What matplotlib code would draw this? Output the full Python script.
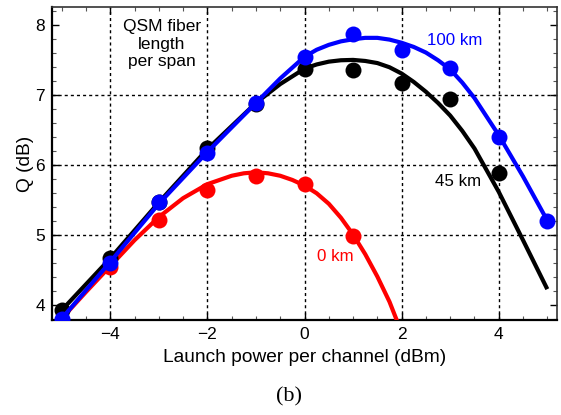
import matplotlib
matplotlib.use("Agg")
import matplotlib.pyplot as plt
from matplotlib.ticker import MultipleLocator

# ---- data ----
# measured points
x_red_pts = [-4, -3, -2, -1, 0, 1]
y_red_pts = [4.53, 5.21, 5.64, 5.84, 5.72, 4.98]
x_blk_pts = [-5, -4, -3, -2, -1, 0, 1, 2, 3, 4]
y_blk_pts = [3.92, 4.67, 5.47, 6.23, 6.87, 7.37, 7.35, 7.17, 6.94, 5.88]
x_blu_pts = [-5, -4, -3, -2, -1, 0, 1, 2, 3, 4, 5]
y_blu_pts = [3.80, 4.60, 5.46, 6.17, 6.88, 7.53, 7.86, 7.64, 7.38, 6.40, 5.20]

# fitted curves
x_red_fit = [-5.0, -4.5, -4.0, -3.5, -3.0, -2.5, -2.0, -1.5, -1.25, -1.0, -0.75, -0.5,
             -0.25, 0.0, 0.25, 0.5, 0.75, 1.0, 1.25, 1.5, 1.75, 2.0]
y_red_fit = [3.80, 4.18, 4.55, 4.92, 5.25, 5.52, 5.72, 5.84, 5.875, 5.89, 5.875, 5.84,
             5.78, 5.70, 5.59, 5.44, 5.24, 5.00, 4.72, 4.40, 4.04, 3.60]
x_blk_fit = [-5.0, -4.0, -3.0, -2.0, -1.5, -1.0, -0.5, 0.0, 0.25, 0.5, 0.75, 1.0, 1.25,
             1.5, 1.75, 2.0, 2.25, 2.5, 2.75, 3.0, 3.25, 3.5, 4.0, 4.5, 5.0]
y_blk_fit = [3.92, 4.66, 5.46, 6.22, 6.55, 6.88, 7.15, 7.37, 7.43, 7.47, 7.49, 7.495, 7.48,
             7.45, 7.39, 7.30, 7.18, 7.04, 6.88, 6.70, 6.48, 6.23, 5.61, 4.92, 4.22]
x_blu_fit = [-5.0, -4.0, -3.0, -2.0, -1.0, -0.5, 0.0, 0.25, 0.5, 0.75, 1.0, 1.25, 1.5,
             1.75, 2.0, 2.25, 2.5, 2.75, 3.0, 3.25, 3.5, 4.0, 4.5, 5.0]
y_blu_fit = [3.80, 4.61, 5.44, 6.18, 6.88, 7.23, 7.54, 7.64, 7.71, 7.76, 7.79, 7.81, 7.81,
             7.785, 7.74, 7.68, 7.60, 7.49, 7.36, 7.17, 6.95, 6.42, 5.83, 5.20]

x_ticks = [-4, -2, 0, 2, 4]
y_ticks = [4, 5, 6, 7, 8]
x_grid = [-4, -2, 0, 2, 4]
y_grid = [5, 6, 7]

RED, BLK, BLU = "#ff0000", "#000000", "#0000ff"

plt.rcParams['font.family'] = ['Liberation Sans', 'DejaVu Sans']
fig = plt.figure(figsize=(5.61, 4.15), dpi=100)
ax = fig.add_axes([0.0927, 0.229, 0.9002, 0.754])

for xv in x_grid:
    ax.axvline(xv, color='black', lw=1.0, ls=(0, (2.2, 2.2)), zorder=1)
for yv in y_grid:
    ax.axhline(yv, color='black', lw=1.0, ls=(0, (2.2, 2.2)), zorder=1)

lw = 3.0
ms = 11.5
ax.plot(x_red_fit, y_red_fit, color=RED, lw=lw, zorder=3, solid_capstyle='butt')
ax.plot(x_red_pts, y_red_pts, 'o', color=RED, ms=ms, mec='none', zorder=3)
ax.plot(x_blk_fit, y_blk_fit, color=BLK, lw=lw, zorder=4, solid_capstyle='butt')
ax.plot(x_blk_pts, y_blk_pts, 'o', color=BLK, ms=ms, mec='none', zorder=4)
ax.plot(x_blu_fit, y_blu_fit, color=BLU, lw=lw, zorder=5, solid_capstyle='butt')
ax.plot(x_blu_pts, y_blu_pts, 'o', color=BLU, ms=ms, mec='none', zorder=5)

ax.set_xlim(-5.2, 5.2)
ax.set_ylim(3.78, 8.25)
ax.set_xticks(x_ticks)
ax.set_xticklabels([f"\u2212{abs(v)}" if v < 0 else str(v) for v in x_ticks])
ax.set_yticks(y_ticks)
ax.xaxis.set_minor_locator(MultipleLocator(0.5))
ax.yaxis.set_minor_locator(MultipleLocator(0.2))
ax.tick_params(which='both', direction='in', top=True, right=True,
               labeltop=False, labelright=False)
ax.tick_params(which='major', length=5, width=1.0, labelsize=12.5, pad=5)
ax.tick_params(which='minor', length=3, width=0.8, color='#555555')

for s in ['left', 'bottom']:
    ax.spines[s].set_linewidth(1.6)
    ax.spines[s].set_color('black')
for s in ['top', 'right']:
    ax.spines[s].set_linewidth(1.2)
    ax.spines[s].set_color('#333333')

ax.set_xlabel("Launch power per channel (dBm)", fontsize=13.8, labelpad=5)
ax.set_ylabel("Q (dB)", fontsize=13.8, labelpad=1)

ax.text(-2.94, 7.72, "QSM fiber\nlength\nper span", ha='center', va='center',
        fontsize=12.5, linespacing=1.22, color='black')
ax.text(3.09, 7.77, "100 km", ha='center', va='center', fontsize=12.2, color=BLU)
ax.text(3.16, 5.76, "45 km", ha='center', va='center', fontsize=12.2, color=BLK)
ax.text(0.63, 4.69, "0 km", ha='center', va='center', fontsize=12.2, color=RED)

fig.text(289 / 561, 1 - 397 / 415, "(b)", ha='center', va='center', fontsize=16,
         family=['Liberation Serif', 'DejaVu Serif'])

fig.savefig("out.png", dpi=100)
